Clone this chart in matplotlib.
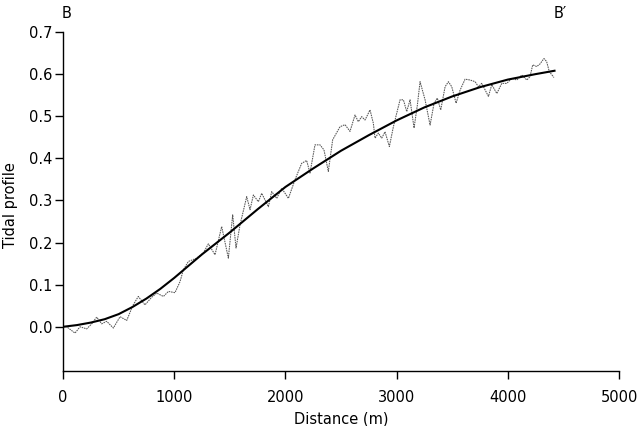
import matplotlib
matplotlib.use("Agg")
import matplotlib.pyplot as plt

# smooth fitted profile
fit_x = [0, 125, 250, 375, 500, 625, 750, 875, 1000, 1125, 1250, 1375, 1500, 1750,
         2000, 2250, 2500, 2750, 3000, 3250, 3500, 3750, 4000, 4250, 4420]
fit_y = [0.0, 0.004, 0.010, 0.018, 0.030, 0.047, 0.067, 0.090, 0.116, 0.144, 0.172,
         0.198, 0.224, 0.279, 0.332, 0.376, 0.418, 0.455, 0.490, 0.521, 0.547,
         0.569, 0.587, 0.600, 0.608]

# measured (noisy) profile
meas_x = [0, 33, 108, 153, 213, 258, 303, 348, 393, 453, 513, 573, 627, 677, 737,
          797, 843, 903, 948, 1007, 1052, 1082, 1127, 1202, 1262, 1307, 1367, 1427,
          1487, 1526, 1556, 1592, 1652, 1682, 1712, 1757, 1787, 1847, 1877, 1922,
          1967, 2027, 2086, 2146, 2191, 2221, 2266, 2311, 2347, 2386, 2425, 2461,
          2491, 2536, 2581, 2626, 2656, 2686, 2716, 2761, 2791, 2806, 2836, 2866,
          2896, 2935, 2971, 3031, 3061, 3091, 3121, 3157, 3187, 3211, 3256, 3301,
          3337, 3366, 3397, 3436, 3466, 3496, 3535, 3571, 3616, 3661, 3706, 3736,
          3766, 3826, 3856, 3901, 3946, 3991, 4036, 4081, 4126, 4171, 4200, 4224,
          4260, 4289, 4325, 4349, 4373, 4415]
meas_y = [0.0, 0.0, -0.015, 0.0, -0.005, 0.007, 0.023, 0.007, 0.013, -0.003, 0.024,
          0.015, 0.050, 0.072, 0.052, 0.070, 0.080, 0.072, 0.084, 0.081, 0.107,
          0.135, 0.155, 0.163, 0.175, 0.197, 0.171, 0.238, 0.163, 0.266, 0.187,
          0.242, 0.309, 0.278, 0.313, 0.297, 0.317, 0.285, 0.321, 0.305, 0.329,
          0.305, 0.349, 0.388, 0.395, 0.365, 0.432, 0.432, 0.420, 0.369, 0.444,
          0.461, 0.475, 0.480, 0.464, 0.503, 0.487, 0.499, 0.491, 0.515, 0.483,
          0.448, 0.460, 0.448, 0.463, 0.428, 0.475, 0.539, 0.539, 0.511, 0.539,
          0.472, 0.527, 0.582, 0.539, 0.479, 0.531, 0.543, 0.515, 0.570, 0.582,
          0.570, 0.531, 0.562, 0.588, 0.586, 0.582, 0.570, 0.578, 0.547, 0.575,
          0.554, 0.578, 0.578, 0.590, 0.586, 0.598, 0.586, 0.594, 0.622, 0.618,
          0.624, 0.637, 0.630, 0.606, 0.592]

x_ticks = [0, 1000, 2000, 3000, 4000, 5000]
y_ticks = [0.0, 0.1, 0.2, 0.3, 0.4, 0.5, 0.6, 0.7]

plt.rcParams['font.family'] = 'DejaVu Sans'
plt.rcParams['font.size'] = 10.5

fig = plt.figure(figsize=(6.39, 4.26), dpi=100)
ax = fig.add_axes([63 / 639, 55 / 426, 556 / 639, 339 / 426])

ax.plot(meas_x, meas_y, color='#555555', linewidth=0.75, linestyle=(0, (1.5, 0.8)))
ax.plot(fit_x, fit_y, color='black', linewidth=1.5)

ax.set_xlim(0, 5000)
ax.set_ylim(-0.105, 0.7)
ax.set_xticks(x_ticks)
ax.set_yticks(y_ticks)
ax.set_yticklabels([f'{v:.1f}' for v in y_ticks])

for side in ('top', 'right'):
    ax.spines[side].set_visible(False)
for side in ('left', 'bottom'):
    ax.spines[side].set_linewidth(1.0)

ax.tick_params(axis='x', direction='out', length=5.5, width=1.0, pad=8.5)
ax.tick_params(axis='y', direction='out', length=6, width=1.0, pad=1.5)

ax.set_xlabel('Distance (m)')
ax.xaxis.set_label_coords(0.5, -0.118)
ax.set_ylabel('Tidal profile')
ax.yaxis.set_label_coords(-0.081, 0.49)

fig.text(67 / 639, 1 - 14 / 426, 'B', ha='center', va='center')
fig.text(560 / 639, 1 - 14 / 426, 'B\u2032', ha='center', va='center')

fig.savefig('out.png', dpi=100)
